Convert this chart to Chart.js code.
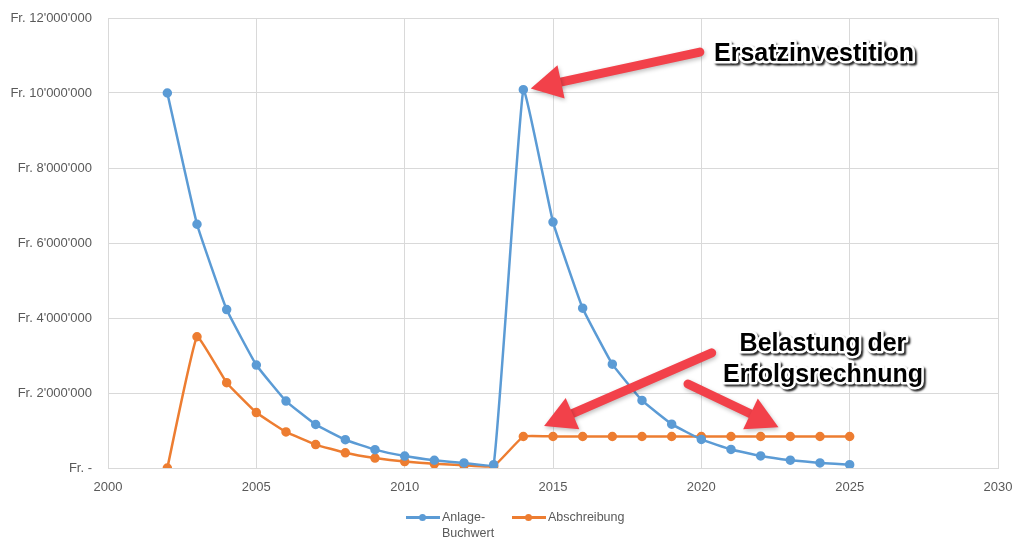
<!DOCTYPE html>
<html>
<head>
<meta charset="utf-8">
<script src="https://cdn.jsdelivr.net/npm/chart.js@4/dist/chart.umd.min.js"></script>
<style>
  html, body { margin: 0; padding: 0; background: #fff; }
  #wrap { position: relative; width: 1014px; height: 538px; }
  #legend { position: absolute; left: 0; top: 509px; width: 1014px; font: 12.5px "Liberation Sans", Arial, sans-serif; color: #595959; }
  .item { position: absolute; display: flex; align-items: flex-start; line-height: 16px; }
  .sym { position: relative; width: 34px; height: 16px; margin-right: 2px; }
  .sym .ln { position: absolute; left: 0; right: 0; top: 7px; height: 2.5px; }
  .sym .dt { position: absolute; left: 13px; top: 4.5px; width: 7px; height: 7px; border-radius: 50%; }
</style>
</head>
<body>
<div id="wrap">
  <canvas id="c" width="1014" height="538"></canvas>
  <div id="legend"></div>
</div>
<script>
// ---- data ----
const years = [2002, 2003, 2004, 2005, 2006, 2007, 2008, 2009, 2010, 2011, 2012, 2013,
               2014, 2015, 2016, 2017, 2018, 2019, 2020, 2021, 2022, 2023, 2024, 2025];
const buchwert = [10000000, 6500000, 4225000, 2746000, 1785000, 1160000, 754000, 490000, 319000, 207000, 135000, 88000,
                  10088000, 6557000, 4262000, 2770000, 1801000, 1170000, 761000, 494000, 321000, 209000, 136000, 88000];
const abschreibung = [0, 3500000, 2275000, 1479000, 961000, 625000, 406000, 264000, 171000, 111000, 72000, 47000,
                      840000, 840000, 840000, 840000, 840000, 840000, 840000, 840000, 840000, 840000, 840000, 840000];
const seriesNames = ["Anlage-Buchwert", "Abschreibung"];
const legendLines = [["Anlage-", "Buchwert"], ["Abschreibung"]];
const xTicks = [2000, 2005, 2010, 2015, 2020, 2025, 2030];
const yTicks = [0, 2000000, 4000000, 6000000, 8000000, 10000000, 12000000];
// annotations in data coordinates
const annotationTexts = [
  { lines: ["Ersatzinvestition"], x: 2023.8, y: 11050000 },
  { lines: ["Belastung der", "Erfolgsrechnung"], x: 2024.1, y: 2880000 }
];
const arrows = [
  { from: [2019.95, 11090000], to: [2014.25, 10120000] },
  { from: [2020.35, 3070000], to: [2014.7, 1120000] },
  { from: [2019.55, 2240000], to: [2022.6, 1090000] }
];

const BLUE = "#5b9bd5", ORANGE = "#ed7d31", GRID = "#d9d9d9", TXT = "#595959";

function fmtFr(v) {
  if (v === 0) return "Fr. -";
  return "Fr. " + String(Math.round(v)).replace(/\B(?=(\d{3})+(?!\d))/g, "'");
}

const annotPlugin = {
  id: "annot",
  afterDraw(chart) {
    const ctx = chart.ctx, xs = chart.scales.x, ys = chart.scales.y;
    arrows.forEach(a => {
      const x1 = xs.getPixelForValue(a.from[0]), y1 = ys.getPixelForValue(a.from[1]);
      const x2 = xs.getPixelForValue(a.to[0]), y2 = ys.getPixelForValue(a.to[1]);
      const ang = Math.atan2(y2 - y1, x2 - x1);
      const headLen = 31, headHalf = 17;
      const bx = x2 - headLen * Math.cos(ang), by = y2 - headLen * Math.sin(ang);
      ctx.save();
      ctx.shadowColor = "rgba(0,0,0,0.25)";
      ctx.shadowBlur = 4; ctx.shadowOffsetX = 1; ctx.shadowOffsetY = 2;
      ctx.strokeStyle = "#f2414a"; ctx.fillStyle = "#f2414a";
      ctx.lineWidth = 9; ctx.lineCap = "round";
      ctx.beginPath(); ctx.moveTo(x1, y1); ctx.lineTo(bx + 4 * Math.cos(ang), by + 4 * Math.sin(ang)); ctx.stroke();
      ctx.beginPath();
      ctx.moveTo(x2, y2);
      ctx.lineTo(bx + headHalf * Math.sin(ang), by - headHalf * Math.cos(ang));
      ctx.lineTo(bx - headHalf * Math.sin(ang), by + headHalf * Math.cos(ang));
      ctx.closePath(); ctx.fill();
      ctx.restore();
    });
    annotationTexts.forEach(t => {
      const cx = xs.getPixelForValue(t.x), cy = ys.getPixelForValue(t.y);
      const lh = 31;
      ctx.save();
      ctx.font = "bold 25px 'Liberation Sans', Arial, sans-serif";
      ctx.textAlign = "center"; ctx.textBaseline = "middle";
      t.lines.forEach((ln, i) => {
        const yy = cy + (i - (t.lines.length - 1) / 2) * lh;
        ctx.save();
        ctx.shadowColor = "rgba(0,0,0,0.85)";
        ctx.shadowBlur = 2; ctx.shadowOffsetX = 2; ctx.shadowOffsetY = 2;
        ctx.strokeStyle = "#fff"; ctx.lineWidth = 5; ctx.lineJoin = "round";
        ctx.strokeText(ln, cx, yy);
        ctx.restore();
        ctx.strokeStyle = "#fff"; ctx.lineWidth = 4; ctx.lineJoin = "round";
        ctx.strokeText(ln, cx, yy);
        ctx.fillStyle = "#000";
        ctx.fillText(ln, cx, yy);
      });
      ctx.restore();
    });
  }
};

const chart = new Chart(document.getElementById("c"), {
  type: "line",
  data: {
    datasets: [
      { label: seriesNames[0], data: years.map((y, i) => ({ x: y, y: buchwert[i] })),
        borderColor: BLUE, backgroundColor: BLUE, borderWidth: 2.5, pointRadius: 3.5, pointHoverRadius: 3.5,
        tension: 0.1 },
      { label: seriesNames[1], data: years.map((y, i) => ({ x: y, y: abschreibung[i] })),
        borderColor: ORANGE, backgroundColor: ORANGE, borderWidth: 2.5, pointRadius: 3.5, pointHoverRadius: 3.5,
        tension: 0.1 }
    ]
  },
  options: {
    responsive: false,
    animation: false,
    layout: { padding: { left: 0, right: 16, top: 18, bottom: 43 } },
    plugins: { legend: { display: false }, tooltip: { enabled: false } },
    scales: {
      x: {
        type: "linear", min: 2000, max: 2030,
        afterBuildTicks: s => { s.ticks = xTicks.map(v => ({ value: v })); },
        afterFit: s => { s.height = 27; s.paddingLeft = 0; s.paddingRight = 0; },
        grid: { color: GRID, drawTicks: false },
        border: { color: GRID },
        ticks: { color: TXT, padding: 12, font: { family: "'Liberation Sans', Arial, sans-serif", size: 13 }, callback: v => String(v) }
      },
      y: {
        min: 0, max: 12000000,
        afterBuildTicks: s => { s.ticks = yTicks.map(v => ({ value: v })); },
        afterFit: s => { s.width = 108; s.paddingTop = 0; s.paddingBottom = 0; },
        grid: { color: GRID, drawTicks: false },
        border: { color: GRID },
        ticks: { color: TXT, padding: 16, font: { family: "'Liberation Sans', Arial, sans-serif", size: 13 }, callback: v => fmtFr(v) }
      }
    }
  },
  plugins: [annotPlugin]
});

const legend = document.getElementById("legend");
const legendLeft = [406, 512];
chart.data.datasets.forEach((ds, i) => {
  const it = document.createElement("div");
  it.className = "item";
  it.style.left = legendLeft[i] + "px";
  const sym = document.createElement("div"); sym.className = "sym";
  const ln = document.createElement("div"); ln.className = "ln"; ln.style.background = ds.borderColor;
  const dt = document.createElement("div"); dt.className = "dt"; dt.style.background = ds.borderColor;
  sym.appendChild(ln); sym.appendChild(dt);
  const tx = document.createElement("div");
  tx.innerHTML = legendLines[i].join("<br>");
  it.appendChild(sym); it.appendChild(tx);
  legend.appendChild(it);
});
</script>
</body>
</html>
